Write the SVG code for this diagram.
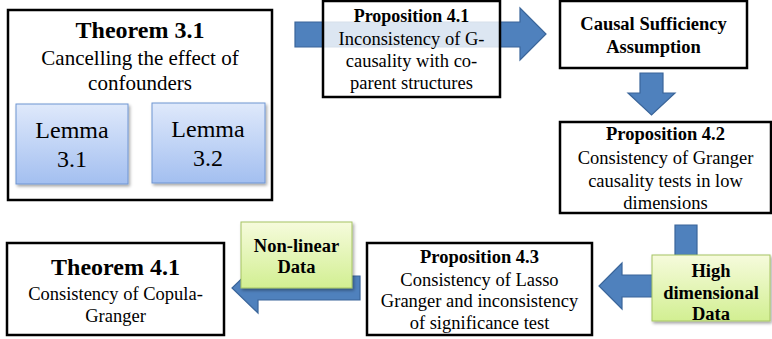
<svg xmlns="http://www.w3.org/2000/svg" width="772" height="339" viewBox="0 0 772 339">
<defs>
<linearGradient id="gBlue" x1="0" y1="0" x2="0" y2="1">
<stop offset="0" stop-color="#dfe9fb"/>
<stop offset="1" stop-color="#a3bff0"/>
</linearGradient>
<linearGradient id="gGreen" x1="0" y1="0" x2="0" y2="1">
<stop offset="0" stop-color="#f6fbdc"/>
<stop offset="1" stop-color="#d2ef92"/>
</linearGradient>
<filter id="sh" x="-10%" y="-10%" width="125%" height="130%">
<feDropShadow dx="1.5" dy="2" stdDeviation="1.5" flood-color="#000" flood-opacity="0.35"/>
</filter>
</defs>
<style>
.box{fill:#fff;stroke:#000;stroke-width:2.5}
.lem{fill:url(#gBlue);stroke:#6f95d2;stroke-width:1;filter:url(#sh)}
.grn{fill:url(#gGreen);stroke:#a6c463;stroke-width:1;filter:url(#sh)}
.arr{fill:#4f81bd;stroke:#3a659a;stroke-width:1.2}
text{fill:#000;text-anchor:middle;font-family:'Liberation Serif','DejaVu Serif','Noto Serif',Tinos,Times,'Times New Roman',serif}
.b{font-weight:bold}
</style>
<g id="connectors">
<path class="arr" d="M295,22 H520 V8 L546,34 L520,60 V47 H295 Z"/>
<path class="arr" d="M640,73 H663 V93 H675 L651.5,115 L628,93 H640 Z"/>
<path class="arr" d="M675,225 H697 V297 H622 V309 L599,286 L622,263 V275 H675 Z"/>
<path class="arr" d="M360,276 V300 H258 V313 L232,288 L258,263 V276 Z"/>
</g>
<g id="theorem31">
<rect class="box" x="8" y="10" width="264" height="190"/>
<text class="b" x="140" y="38" font-size="24">Theorem 3.1</text>
<text x="140" y="65" font-size="21">Cancelling the effect of</text>
<text x="140" y="90" font-size="21">confounders</text>
</g>
<g id="lemma31">
<rect class="lem" x="16" y="104" width="112" height="80"/>
<text x="72" y="138" font-size="24">Lemma</text>
<text x="72" y="167" font-size="24">3.1</text>
</g>
<g id="lemma32">
<rect class="lem" x="152" y="103" width="113" height="80"/>
<text x="208" y="137" font-size="24">Lemma</text>
<text x="208" y="166" font-size="24">3.2</text>
</g>
<g id="prop41">
<rect class="box" x="323" y="1" width="177" height="96" style="fill-opacity:0.8"/>
<text class="b" x="411.5" y="22" font-size="18">Proposition 4.1</text>
<text x="411.5" y="45" font-size="18.5">Inconsistency of G-</text>
<text x="411.5" y="67" font-size="18.5">causality with co-</text>
<text x="411.5" y="89" font-size="18.5">parent structures</text>
</g>
<g id="causal">
<rect class="box" x="560" y="1" width="187" height="67"/>
<text class="b" x="653.5" y="30" font-size="18.5">Causal Sufficiency</text>
<text class="b" x="653.5" y="53" font-size="18.5">Assumption</text>
</g>
<g id="prop42">
<rect class="box" x="560" y="122" width="211" height="91"/>
<text class="b" x="665.5" y="140" font-size="18.5">Proposition 4.2</text>
<text x="665.5" y="164" font-size="18.5">Consistency of Granger</text>
<text x="665.5" y="187" font-size="18.5">causality tests in low</text>
<text x="665.5" y="209" font-size="18.5">dimensions</text>
</g>
<g id="prop43">
<rect class="box" x="367" y="243" width="225" height="92"/>
<text class="b" x="479.5" y="263" font-size="18.5">Proposition 4.3</text>
<text x="479.5" y="286" font-size="18.5">Consistency of Lasso</text>
<text x="479.5" y="307" font-size="18.5">Granger and inconsistency</text>
<text x="479.5" y="329" font-size="18.5">of significance test</text>
</g>
<g id="theorem41">
<rect class="box" x="7" y="243" width="217" height="92"/>
<text class="b" x="115.5" y="275" font-size="24">Theorem 4.1</text>
<text x="115.5" y="300" font-size="18.5">Consistency of Copula-</text>
<text x="115.5" y="322" font-size="18.5">Granger</text>
</g>
<g id="nonlinear">
<rect class="grn" x="241" y="222" width="111" height="66"/>
<text class="b" x="296.5" y="252" font-size="18.5">Non-linear</text>
<text class="b" x="296.5" y="273" font-size="18.5">Data</text>
</g>
<g id="highdim">
<rect class="grn" x="652" y="255" width="118" height="66"/>
<text class="b" x="711" y="277" font-size="18.5">High</text>
<text class="b" x="711" y="299" font-size="18.5">dimensional</text>
<text class="b" x="711" y="320" font-size="18.5">Data</text>
</g>
</svg>
